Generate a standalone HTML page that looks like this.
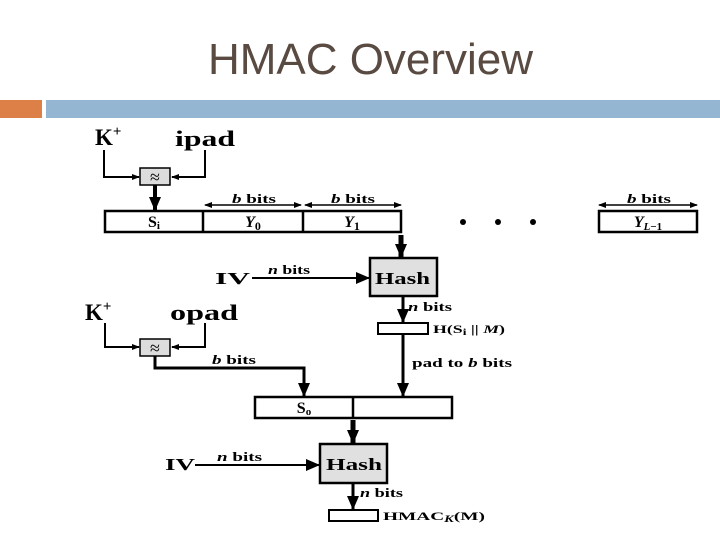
<!DOCTYPE html>
<html><head><meta charset="utf-8"><style>
html,body{margin:0;padding:0;background:#fff;width:720px;height:540px;overflow:hidden}
svg{display:block}
.t{font-family:"Liberation Serif",serif;font-weight:bold;fill:#000}
</style></head><body>
<svg width="720" height="540" viewBox="0 0 720 540" xmlns="http://www.w3.org/2000/svg">
<defs>
<marker id="a" markerWidth="8" markerHeight="8" refX="7" refY="4" orient="auto" markerUnits="userSpaceOnUse"><path d="M0,1 L8,4 L0,7z" fill="#000"/></marker>
<marker id="ab" markerWidth="14" markerHeight="12" refX="13" refY="6" orient="auto" markerUnits="userSpaceOnUse"><path d="M0,0 L14,6 L0,12z" fill="#000"/></marker>
<marker id="as" markerWidth="8" markerHeight="8" refX="1" refY="4" orient="auto" markerUnits="userSpaceOnUse"><path d="M8,1 L0,4 L8,7z" fill="#000"/></marker>
</defs>
<text x="208" y="74" textLength="325" lengthAdjust="spacingAndGlyphs" font-family="Liberation Sans,sans-serif" font-size="44" fill="#594a42">HMAC Overview</text>
<rect x="0" y="100" width="42" height="18" fill="#DD8047"/>
<rect x="46" y="100" width="674" height="18" fill="#94B6D2"/>
<g stroke="#000" fill="none">
<text class="t" x="95" y="145" font-size="23" stroke="none">K<tspan font-size="15" dy="-9">+</tspan></text>
<text class="t" x="175" y="146" font-size="22" stroke="none" textLength="60" lengthAdjust="spacingAndGlyphs">ipad</text>
<polyline points="104,150 104,177 139,177" stroke-width="2" marker-end="url(#a)"/>
<polyline points="205,150 205,177 172,177" stroke-width="2" marker-end="url(#a)"/>
<rect x="140" y="168" width="30" height="17" fill="#ddd" stroke-width="1.5"/>
<text x="155" y="183" font-size="18" text-anchor="middle" stroke="none" fill="#000">≈</text>
<line x1="155" y1="185" x2="155" y2="210" stroke-width="4" marker-end="url(#ab)"/>
<rect x="105" y="211" width="296" height="21" stroke-width="2.5"/>
<line x1="203" y1="211" x2="203" y2="232" stroke-width="2.5"/>
<line x1="303" y1="211" x2="303" y2="232" stroke-width="2.5"/>
<text class="t" x="154" y="227" font-size="16" text-anchor="middle" stroke="none">S<tspan font-size="11" dy="2">i</tspan></text>
<text class="t" x="253" y="227" font-size="16" text-anchor="middle" stroke="none" font-style="italic">Y<tspan font-size="12" dy="3" font-style="normal">0</tspan></text>
<text class="t" x="352" y="227" font-size="16" text-anchor="middle" stroke="none" font-style="italic">Y<tspan font-size="12" dy="3" font-style="normal">1</tspan></text>
<line x1="205" y1="205" x2="301" y2="205" stroke-width="1.5" marker-start="url(#as)" marker-end="url(#a)"/>
<line x1="305" y1="205" x2="401" y2="205" stroke-width="1.5" marker-start="url(#as)" marker-end="url(#a)"/>
<line x1="599" y1="205" x2="697" y2="205" stroke-width="1.5" marker-start="url(#as)" marker-end="url(#a)"/>
<text class="t" x="232" y="203" font-size="13" stroke="none" textLength="44" lengthAdjust="spacingAndGlyphs"><tspan font-style="italic">b</tspan> bits</text>
<text class="t" x="331" y="203" font-size="13" stroke="none" textLength="44" lengthAdjust="spacingAndGlyphs"><tspan font-style="italic">b</tspan> bits</text>
<text class="t" x="627" y="203" font-size="13" stroke="none" textLength="44" lengthAdjust="spacingAndGlyphs"><tspan font-style="italic">b</tspan> bits</text>
<circle cx="463" cy="222" r="3" fill="#000" stroke="none"/>
<circle cx="498" cy="222" r="3" fill="#000" stroke="none"/>
<circle cx="533" cy="222" r="3" fill="#000" stroke="none"/>
<rect x="599" y="211" width="98" height="21" stroke-width="2.5"/>
<text class="t" x="648" y="227" font-size="16" text-anchor="middle" stroke="none" font-style="italic">Y<tspan font-size="11" dy="3">L</tspan><tspan font-size="11" font-style="normal">−1</tspan></text>
<line x1="401" y1="235" x2="401" y2="257" stroke-width="5" marker-end="url(#ab)"/>
<rect x="370" y="258" width="67" height="38" fill="#e0e0e0" stroke-width="2.5"/>
<text class="t" x="375" y="284" font-size="17" stroke="none" textLength="55" lengthAdjust="spacingAndGlyphs">Hash</text>
<text class="t" x="215" y="284" font-size="17" stroke="none" textLength="35" lengthAdjust="spacingAndGlyphs">IV</text>
<line x1="252" y1="278" x2="369" y2="278" stroke-width="2" marker-end="url(#ab)"/>
<text class="t" x="268" y="274" font-size="13" stroke="none" textLength="42" lengthAdjust="spacingAndGlyphs"><tspan font-style="italic">n</tspan> bits</text>
<line x1="403" y1="297" x2="403" y2="322" stroke-width="3" marker-end="url(#ab)"/>
<text class="t" x="408" y="311" font-size="13" stroke="none" textLength="44" lengthAdjust="spacingAndGlyphs"><tspan font-style="italic">n</tspan> bits</text>
<rect x="378" y="323" width="50" height="11" stroke-width="2"/>
<text class="t" x="433" y="333" font-size="12" stroke="none" textLength="72" lengthAdjust="spacingAndGlyphs">H(S<tspan font-size="9" dy="2">i</tspan><tspan dy="-2"> || </tspan><tspan font-style="italic">M</tspan>)</text>
<line x1="403" y1="335" x2="403" y2="396" stroke-width="3" marker-end="url(#ab)"/>
<text class="t" x="412" y="367" font-size="13" stroke="none" textLength="100" lengthAdjust="spacingAndGlyphs">pad to <tspan font-style="italic">b</tspan> bits</text>
<text class="t" x="85" y="320" font-size="23" stroke="none">K<tspan font-size="15" dy="-9">+</tspan></text>
<text class="t" x="170" y="320" font-size="22" stroke="none" textLength="68" lengthAdjust="spacingAndGlyphs">opad</text>
<polyline points="105,323 105,347 139,347" stroke-width="2" marker-end="url(#a)"/>
<polyline points="205,323 205,347 172,347" stroke-width="2" marker-end="url(#a)"/>
<rect x="140" y="339" width="30" height="17" fill="#ddd" stroke-width="1.5"/>
<text x="155" y="354" font-size="18" text-anchor="middle" stroke="none" fill="#000">≈</text>
<polyline points="155,356 155,368 304,368 304,396" stroke-width="3" marker-end="url(#ab)"/>
<text class="t" x="212" y="364" font-size="13" stroke="none" textLength="44" lengthAdjust="spacingAndGlyphs"><tspan font-style="italic">b</tspan> bits</text>
<rect x="255" y="397" width="197" height="21" stroke-width="2.5"/>
<line x1="353" y1="397" x2="353" y2="418" stroke-width="2.5"/>
<text class="t" x="304" y="413" font-size="16" text-anchor="middle" stroke="none">S<tspan font-size="11" dy="2">o</tspan></text>
<line x1="353" y1="420" x2="353" y2="443" stroke-width="5" marker-end="url(#ab)"/>
<rect x="320" y="444" width="67" height="39" fill="#e0e0e0" stroke-width="2.5"/>
<text class="t" x="326" y="470" font-size="17" stroke="none" textLength="56" lengthAdjust="spacingAndGlyphs">Hash</text>
<text class="t" x="165" y="470" font-size="17" stroke="none" textLength="30" lengthAdjust="spacingAndGlyphs">IV</text>
<line x1="195" y1="465" x2="319" y2="465" stroke-width="2" marker-end="url(#ab)"/>
<text class="t" x="217" y="461" font-size="13" stroke="none" textLength="45" lengthAdjust="spacingAndGlyphs"><tspan font-style="italic">n</tspan> bits</text>
<line x1="353" y1="484" x2="353" y2="509" stroke-width="3" marker-end="url(#ab)"/>
<text class="t" x="360" y="497" font-size="13" stroke="none" textLength="43" lengthAdjust="spacingAndGlyphs"><tspan font-style="italic">n</tspan> bits</text>
<rect x="329" y="510" width="49" height="11" stroke-width="2"/>
<text class="t" x="383" y="520" font-size="12" stroke="none" textLength="102" lengthAdjust="spacingAndGlyphs">HMAC<tspan font-size="9" dy="2" font-style="italic">K</tspan><tspan dy="-2">(M)</tspan></text>
</g>
</svg>
</body></html>
